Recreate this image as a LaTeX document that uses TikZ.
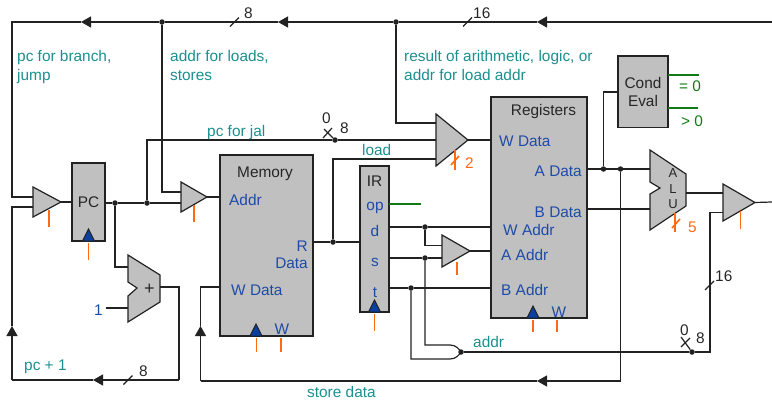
\documentclass[tikz,border=0pt]{standalone}
\usepackage{fontspec}
\setmainfont{Liberation Sans}
\usepackage{tikz}
\usetikzlibrary{calc}
\usetikzlibrary{arrows.meta}
\definecolor{wirecol}{HTML}{222222}
\definecolor{bodycol}{HTML}{C0C0C0}
\definecolor{labcol}{HTML}{1B8F8F}
\definecolor{pincol}{HTML}{1F4BA8}
\definecolor{ctlcol}{HTML}{FF6A13}
\definecolor{flagcol}{HTML}{127A12}
\definecolor{clkcol}{HTML}{0B3FA0}
\tikzset{
	wire/.style={draw=wirecol,line width=1.2pt},
	bus/.style={wire,-{Triangle[length=10pt,width=11pt]}},
	junction/.style={circle,fill=wirecol,inner sep=0pt,minimum size=5.5pt},
	block/.style={draw=wirecol,fill=bodycol,line width=1.2pt,inner sep=0pt,outer sep=0pt,font=\fontsize{15.4}{18}\selectfont,text=black!85,align=center},
	gatebody/.style={draw=wirecol,fill=bodycol,line width=1.2pt,line join=miter},
	lab/.style={text=labcol,inner sep=0pt,font=\fontsize{15.4}{19}\selectfont,align=left},
	pinlab/.style={text=pincol,inner sep=0pt,font=\fontsize{15.4}{18}\selectfont},
	numlab/.style={text=black!85,inner sep=0pt,font=\fontsize{15.4}{18}\selectfont},
	ctllab/.style={text=ctlcol,inner sep=0pt,font=\fontsize{15.4}{18}\selectfont},
	flaglab/.style={text=flagcol,inner sep=0pt,font=\fontsize{15.4}{18}\selectfont},
	ctl/.style={draw=ctlcol,line width=1.6pt},
	flag/.style={draw=flagcol,line width=1.2pt},
	pics/mux/.style 2 args={code={
		\draw[gatebody] (0,-#2) -- (#1,0) -- (0,#2) -- cycle;
		\coordinate (-in) at (0,0);
		\coordinate (-out) at (#1,0);
	}},
	pics/clk/.style={code={
		\draw[fill=clkcol,draw=wirecol,line width=1pt] (-6,0) -- (0,-12) -- (6,0) -- cycle;
	}},
}
\begin{document}
\begin{tikzpicture}[x=1pt,y=-1pt]
	\useasboundingbox (0,0) rectangle (772,402);
	% blocks
	\node[block,minimum width=33pt,minimum height=78pt] (pc) at (88.5,202) {PC};
	\node[block,minimum width=93pt,minimum height=181pt] (mem) at (266.5,245.5) {};
	\node[block,minimum width=29pt,minimum height=146pt] (ir) at (374.5,239) {};
	\node[block,minimum width=96pt,minimum height=221pt] (regs) at (539,207.5) {};
	\node[block,minimum width=50pt,minimum height=71.5pt] (cond) at (643,91.75) {Cond\\Eval};
	\pic (clkpc) at (pc.south) {clk};
	\pic (clkmem) at (mem.south -| 256,0) {clk};
	\pic (clkir) at (ir.south) {clk};
	\pic (clkregs) at (regs.south -| 533,0) {clk};
	% muxes, adder, alu
	\pic (muxpc) at (33,202) {mux={28}{15}};
	\pic (muxmem) at (181,197) {mux={26}{15}};
	\pic (muxw) at (436,140) {mux={32}{26}};
	\pic (muxa) at (442,251) {mux={28}{16}};
	\pic (muxout) at (723,202.5) {mux={32}{18.5}};
	\draw[gatebody] (128,255) -- (160,275) -- (160,302) -- (128,322) -- (128,296) -- (137,288) -- (128,282) -- cycle;
	\draw[gatebody] (650,150) -- (686,174) -- (686,206) -- (650,230) -- (650,194) -- (660,188) -- (650,182) -- cycle;
	\coordinate (addin) at (128,267);
	\coordinate (addone) at (128,308);
	\coordinate (addout) at (160,287);
	\coordinate (alua) at (650,169);
	\coordinate (alub) at (650,209);
	\coordinate (aluout) at (686,193);
	% junctions
	\node[junction] (jaddr) at (162,22) {};
	\node[junction] (jres) at (396,22) {};
	\node[junction] (jpc) at (115,203) {};
	\node[junction] (jjal) at (147,203) {};
	\node[junction] (jzero) at (335,140) {};
	\node[junction] (jload) at (333,242) {};
	\node[junction] (jd) at (425,227) {};
	\node[junction] (js) at (425,258) {};
	\node[junction] (jt) at (411,288) {};
	\node[junction] (jcond) at (603.5,169) {};
	\node[junction] (jstore) at (620.5,169) {};
	\node[junction] (jgate) at (461,352) {};
	\node[junction] (jlow) at (692,352) {};
	% top bus
	\coordinate (redge) at (772,22);
	\coordinate (tipa) at (537,22);
	\coordinate (tipb) at (278,22);
	\coordinate (tipc) at (81,22);
	\coordinate (lcorner) at (12,22);
	\draw[bus] (redge) -- (tipa);
	\draw[wire] (tipa) -- (jres);
	\draw[bus] (jres) -- (tipb);
	\draw[wire] (tipb) -- (jaddr);
	\draw[bus] (jaddr) -- (tipc);
	\draw[wire] (tipc) -- (lcorner) |- ($ (muxpc-in) + (0,-5) $);
	\draw[wire] (jaddr) |- ($ (muxmem-in) + (0,-5) $);
	\draw[wire] (jres) |- ($ (muxw-in) + (0,-17) $);
	% pc loop
	\coordinate (loopa) at (179,380);
	\coordinate (tipd) at (93,380);
	\coordinate (loopb) at (12,380);
	\coordinate (tipe) at (12,326);
	\draw[wire] (addout) -| (loopa);
	\draw[bus] (loopa) -- (tipd);
	\draw[wire] (tipd) -- (loopb);
	\draw[bus] (loopb) -- (tipe);
	\draw[wire] (tipe) |- ($ (muxpc-in) + (0,5) $);
	\draw[wire] (muxpc-out) -- (pc.west |- muxpc-out);
	\draw[wire] (pc.east |- jpc) -- (jpc);
	\draw[wire] (jpc) -- (jjal);
	\draw[wire] (jjal) -- ($ (muxmem-in) + (0,6) $);
	\draw[wire] (jpc) |- (addin);
	\coordinate (onefree) at (106,308);
	\draw[wire] (onefree) -- (addone);
	\draw[wire] (jjal) |- (jzero);
	\draw[wire] (jzero) -- (muxw-in);
	\draw[wire] (muxmem-out) -- (mem.west |- muxmem-out);
	% memory and ir
	\draw[wire] (mem.east |- jload) -- (jload);
	\draw[wire] (jload) -- (ir.west |- jload);
	\draw[wire] (jload) |- ($ (muxw-in) + (0,19) $);
	\draw[wire] (muxw-out) -- (regs.west |- muxw-out);
	\draw[wire] (ir.east |- jd) -- (jd);
	\draw[wire] (jd) -- (regs.west |- jd);
	\draw[wire] (jd) |- ($ (muxa-in) + (0,-5.5) $);
	\draw[wire] (ir.east |- js) -- (js);
	\draw[wire] (js) -- ($ (muxa-in) + (0,7) $);
	\draw[wire] (muxa-out) -- (regs.west |- muxa-out);
	\draw[wire] (ir.east |- jt) -- (jt);
	\draw[wire] (jt) -- (regs.west |- jt);
	% decode gate
	\coordinate (gatea) at (450,345);
	\coordinate (gateb) at (450,359);
	\draw[wire] (js) |- (gatea) .. controls (456,345) and (459,349) .. (jgate.center) .. controls (459,355) and (456,359) .. (gateb) -| (jt);
	\draw[wire] (jgate) -- (jlow);
	\coordinate (lowb) at (710,352);
	\draw[wire] (jlow) -- (lowb) |- ($ (muxout-in) + (0,10) $);
	% register outputs
	\draw[wire] (regs.east |- jcond) -- (jcond);
	\draw[wire] (jcond) -- (jstore);
	\draw[wire] (jstore) -- (alua);
	\draw[wire] (jcond) |- (cond.west |- 0,92);
	\draw[wire] (regs.east |- alub) -- (alub);
	\draw[wire] (aluout) -- ($ (muxout-in) + (0,-9.5) $);
	\coordinate (redgeb) at (772,202);
	\draw[wire] (muxout-out) -- (redgeb);
	\coordinate (storeb) at (620.5,381);
	\coordinate (tipf) at (537,381);
	\coordinate (storec) at (200.5,381);
	\coordinate (tipg) at (200.5,326);
	\draw[wire] (jstore) -- (storeb);
	\draw[bus] (storeb) -- (tipf);
	\draw[wire] (tipf) -- (storec);
	\draw[bus] (storec) -- (tipg);
	\draw[wire] (tipg) |- (mem.west |- 0,287);
	% flags from the condition box and ir
	\coordinate (floweq) at (699,75);
	\coordinate (flowgt) at (698,108);
	\coordinate (flowop) at (421,204);
	\draw[flag] (cond.east |- floweq) -- (floweq);
	\draw[flag] (cond.east |- flowgt) -- (flowgt);
	\draw[flag] (ir.east |- flowop) -- (flowop);
	% control lines
	\draw[ctl] ($ (muxpc-in) + (16,8) $) -- ++(0,17);
	\draw[ctl] ($ (muxmem-in) + (13,8) $) -- ++(0,17);
	\draw[ctl] ($ (muxw-in) + (19,10) $) -- ++(0,20);
	\draw[ctl] ($ (muxw-in) + (15,25) $) -- ++(8,-9);
	\draw[ctl] ($ (muxa-in) + (15,11) $) -- ++(0,13);
	\draw[ctl] ($ (muxout-in) + (17.5,8) $) -- ++(0,18);
	\draw[ctl] (675,213) -- ++(0,19);
	\draw[ctl] (672,228) -- ++(8,-9);
	\draw[ctl] ($ (pc.south) + (0,2) $) -- ++(0,17);
	\draw[ctl] ($ (ir.south) + (0,2) $) -- ++(0,17);
	\draw[ctl] ($ (mem.south -| 256.5,0) + (0,2) $) -- ++(0,14);
	\draw[ctl] ($ (mem.south -| 281,0) + (0,2) $) -- ++(0,14);
	\draw[ctl] ($ (regs.south -| 533,0) + (0,2) $) -- ++(0,12);
	\draw[ctl] ($ (regs.south -| 557,0) + (0,2) $) -- ++(0,12);
	% bus widths
	\coordinate (cuta) at (235,22);
	\coordinate (cutb) at (468,22);
	\coordinate (cutc) at (128.5,380);
	\coordinate (cutd) at (710,285.5);
	\draw[wire] ($ (cuta) + (-5,4.5) $) -- ++(9,-9);
	\draw[wire] ($ (cutb) + (-5,4.5) $) -- ++(9,-9);
	\draw[wire] ($ (cutc) + (-5,4.5) $) -- ++(9,-9);
	\draw[wire] ($ (cutd) + (-5,4.5) $) -- ++(9,-9);
	\draw[wire] (jzero) -- ++(-11,-11);
	\draw[wire] ($ (jzero) + (-12,-2) $) -- ++(9,-10);
	\draw[wire] (jlow) -- ++(-11,-15);
	\draw[wire] ($ (jlow) + (-11,-5) $) -- ++(9,-9);
	% labels
	\node[lab,anchor=base west] (tbranch) at (17,61) {pc for branch,};
	\node[lab,anchor=base west] (tjump) at (17,80) {jump};
	\node[lab,anchor=base west] (tloads) at (170,61) {addr for loads,};
	\node[lab,anchor=base west] (tstores) at (170,80) {stores};
	\node[lab,anchor=base west] (tresult) at (404,61) {result of arithmetic, logic, or};
	\node[lab,anchor=base west] (tloadaddr) at (404,80) {addr for load addr};
	\node[lab,anchor=base west] (tjal) at (207,136) {pc for jal};
	\node[lab,anchor=base west] (tload) at (362,155.5) {load};
	\node[lab,anchor=base west] (taddr) at (473,347.5) {addr};
	\node[lab,anchor=base west] (tstore) at (307,397.5) {store data};
	\node[lab,anchor=base west] (tpcone) at (24,370.5) {pc + 1};
	\node[pinlab,anchor=base west] (tone) at (94,315.5) {1};
	\node[numlab,font=\fontsize{18}{18}\selectfont] (tplus) at (149.5,289.5) {+};
	\node[numlab,anchor=base] (tmem) at (265,177) {Memory};
	\node[pinlab,anchor=base west] (tmaddr) at (229,205) {Addr};
	\node[pinlab,anchor=base east] (tr) at (308,251) {R};
	\node[pinlab,anchor=base east] (trdata) at (308,268) {Data};
	\node[pinlab,anchor=base west] (twdata) at (231,295.5) {W Data};
	\node[pinlab,anchor=base] (tmw) at (282,334) {W};
	\node[numlab,anchor=base] (tir) at (374.5,186) {IR};
	\node[pinlab,anchor=base] (top) at (375,210) {op};
	\node[pinlab,anchor=base] (td) at (375,236) {d};
	\node[pinlab,anchor=base] (ts) at (375,266.5) {s};
	\node[pinlab,anchor=base] (tt) at (375,297.5) {t};
	\node[numlab,anchor=base] (tregs) at (543.5,115) {Registers};
	\node[pinlab,anchor=base west] (trw) at (499,146.5) {W Data};
	\node[pinlab,anchor=base east] (tra) at (582,176.5) {A Data};
	\node[pinlab,anchor=base east] (trb) at (582,217.5) {B Data};
	\node[pinlab,anchor=base west] (traw) at (503,235.5) {W Addr};
	\node[pinlab,anchor=base west] (traa) at (501,260) {A Addr};
	\node[pinlab,anchor=base west] (trab) at (501,295.5) {B Addr};
	\node[pinlab,anchor=base] (trwe) at (559,317.5) {W};
	\node[flaglab,anchor=base west] (teq) at (679,91.5) {= 0};
	\node[flaglab,anchor=base west] (tgt) at (681,126.5) {> 0};
	\node[numlab,anchor=base,font=\fontsize{13}{15}\selectfont] (tala) at (673,177.5) {A};
	\node[numlab,anchor=base,font=\fontsize{13}{15}\selectfont] (tall) at (673,193) {L};
	\node[numlab,anchor=base,font=\fontsize{13}{15}\selectfont] (talu) at (673,208) {U};
	\node[numlab,anchor=base west] (teighta) at (244,18) {8};
	\node[numlab,anchor=base west] (tsixa) at (473,18) {16};
	\node[numlab,anchor=base west] (teightb) at (139,376.5) {8};
	\node[numlab,anchor=base west] (tzeroa) at (322,123) {0};
	\node[numlab,anchor=base west] (teightc) at (340,133) {8};
	\node[numlab,anchor=base west] (tsixb) at (715,281) {16};
	\node[numlab,anchor=base west] (tzerob) at (680,335) {0};
	\node[numlab,anchor=base west] (teightd) at (696,343) {8};
	\node[ctllab,anchor=base west] (ttwo) at (465,168) {2};
	\node[ctllab,anchor=base west] (tfive) at (688,232) {5};
\end{tikzpicture}
\end{document}
